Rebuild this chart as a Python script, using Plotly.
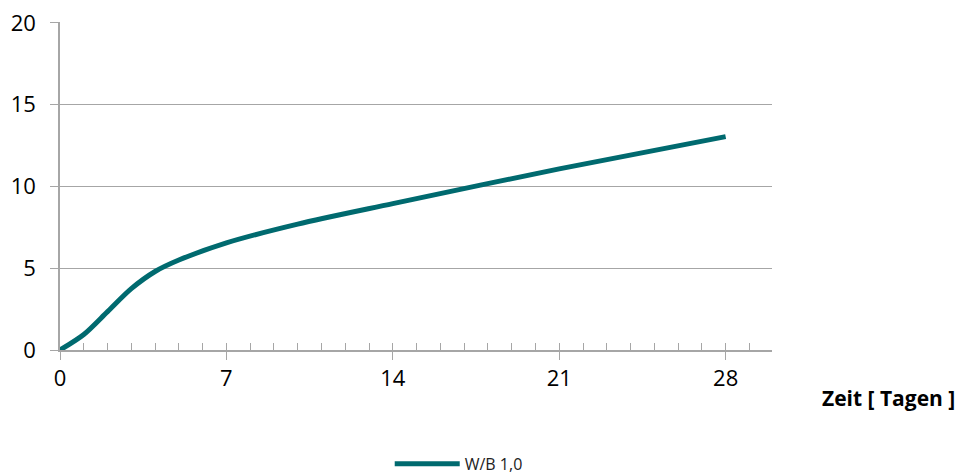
import plotly.graph_objects as go

days = [0, 1, 2, 3, 4, 5, 7, 10, 14, 21, 28]
values = [0.0, 0.95, 2.35, 3.75, 4.8, 5.5, 6.55, 7.7, 8.95, 11.08, 13.05]
series_name = "W/B 1,0"
x_ticks = [0, 7, 14, 21, 28]
y_ticks = [0, 5, 10, 15, 20]
x_title = "Zeit [ Tagen ]"

grid = "#a6a6a6"
font_family = "Open Sans, Liberation Sans, sans-serif"

fig = go.Figure()
fig.add_trace(go.Scatter(
    x=days, y=values, mode="lines", name=series_name,
    line=dict(color="#006A6F", width=5, shape="spline", smoothing=0.8),
))
# overlay axis for minor (daily) tick marks
fig.add_trace(go.Scatter(x=[None], y=[None], xaxis="x2", yaxis="y",
                         showlegend=False, hoverinfo="skip"))

fig.update_layout(
    width=958, height=466,
    margin=dict(l=52, r=194, t=14, b=124, autoexpand=False),
    paper_bgcolor="white", plot_bgcolor="white",
    font=dict(family=font_family, size=22, color="#000000"),
    showlegend=True,
    legend=dict(orientation="h", x=0.56, xanchor="center", y=-0.295, yanchor="top",
                itemwidth=65,
                font=dict(size=16, color="#222222")),
    xaxis=dict(range=[0, 29.95], tickvals=x_ticks, ticks="outside", ticklen=8,
               tickcolor=grid, tickwidth=1, showgrid=False, zeroline=False,
               showline=True, linecolor=grid, linewidth=1.5,
               automargin=False),
    xaxis2=dict(range=[0, 29.95], overlaying="x", anchor="y", side="bottom",
                tickvals=list(range(1, 30)), ticks="inside", ticklen=7,
                tickcolor=grid, tickwidth=1, showticklabels=False,
                showgrid=False, zeroline=False, showline=False,
                automargin=False),
    yaxis=dict(range=[0, 20.06], tickvals=y_ticks, ticks="outside", ticklen=8,
               tickcolor=grid, showgrid=True, gridcolor=grid, gridwidth=1,
               zeroline=False, showline=True, linecolor=grid, linewidth=1.5,
               automargin=False, ticklabeloverflow="allow",
               ticklabelstandoff=10),
    annotations=[dict(text="<b>" + x_title + "</b>", xref="paper", yref="paper",
                      x=1.068, y=-0.146, xanchor="left", yanchor="middle",
                      showarrow=False, font=dict(size=21, color="#000000"))],
)

fig.write_html("out.html")
